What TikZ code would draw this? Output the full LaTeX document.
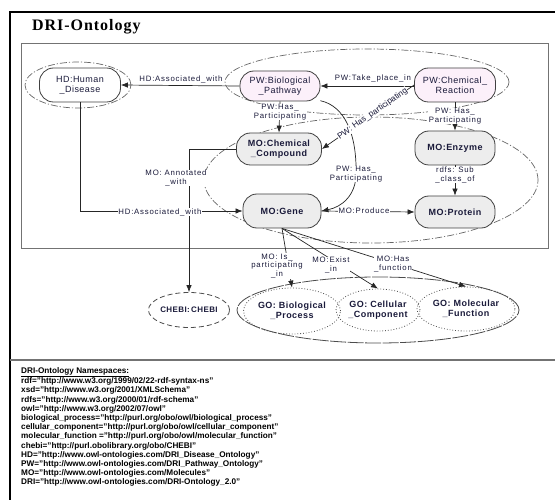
\documentclass[tikz,border=0pt]{standalone}
\usepackage{fontspec}
\setmainfont{Liberation Sans}
\newfontfamily\ndfont[LetterSpace=5]{Liberation Sans}
\newfontfamily\lblfont[LetterSpace=10]{Liberation Sans}
\newfontfamily\ttlfont[LetterSpace=6]{Liberation Serif}
\usetikzlibrary{shapes.geometric,arrows.meta}
\definecolor{ink}{HTML}{1A1A3A}
\definecolor{pwpink}{HTML}{FCF0FA}
\definecolor{mogray}{HTML}{EDEDED}
\tikzset{
  pwbox/.style={draw=black!75, line width=0.8pt, fill=pwpink, rounded corners=14pt,
    minimum height=31pt, align=center, inner sep=1pt, text=ink,
    font=\ndfont\fontsize{9}{10}\selectfont},
  hdbox/.style={pwbox, fill=white},
  mobox/.style={pwbox, fill=mogray, font=\ndfont\bfseries\fontsize{9}{10}\selectfont},
  goell/.style={ellipse, draw=black!70, line width=0.8pt, dotted, align=center,
    inner sep=0pt, text=ink, font=\ndfont\bfseries\fontsize{9}{10}\selectfont},
  chebiell/.style={ellipse, draw=black!70, line width=0.8pt, dash pattern=on 5pt off 3pt,
    align=center, inner sep=0pt, text=ink, font=\ndfont\bfseries\fontsize{8}{9}\selectfont},
  grp/.style={ellipse, draw=black!60, line width=0.7pt,
    dash pattern=on 7pt off 2pt on 1.2pt off 2pt, inner sep=0pt},
  gogrp/.style={ellipse, draw=black!70, line width=0.8pt,
    dash pattern=on 16pt off 1.5pt, inner sep=0pt},
  arr/.style={draw=black!85, line width=0.7pt, -{Latex[length=7pt,width=5.5pt]}},
  lbl/.style={font=\lblfont\fontsize{7.8}{8.6}\selectfont, align=center, inner sep=0.5pt, text=ink},
  lblw/.style={lbl, fill=white},
  slbl/.style={font=\fontsize{8.4}{9}\selectfont, inner sep=0.5pt, text=ink, fill=white},
}
\begin{document}
\begin{tikzpicture}[x=1pt,y=-1pt]
\useasboundingbox (0,0) rectangle (555,500);
% frames
\draw[line width=2pt, black] (10,520) -- (10,12) -- (570,12);
\draw[black!55, line width=1.2pt] (10,360) -- (570,360);
\draw[black!55, line width=0.9pt] (21,43) rectangle (548,248);
\node[anchor=west, font=\ttlfont\bfseries\fontsize{16}{18}\selectfont, inner sep=0pt] (title) at (32,27) {DRI-Ontology};

% group ellipses
\node[grp, minimum width=106pt, minimum height=46pt] (hdgrp) at (78,85) {};
\node[grp, minimum width=284pt, minimum height=66pt] (pwgrp) at (367,82) {};
\node[grp, minimum width=334pt, minimum height=126pt] (mogrp) at (371,180) {};
\node[gogrp, minimum width=282pt, minimum height=66pt] (gogrp) at (378,310) {};

% nodes
\node[hdbox, minimum width=81pt, minimum height=34pt] (hd) at (80,85) {HD:Human\\\_Disease};
\node[pwbox, minimum width=80pt, minimum height=30pt] (pw) at (280,86) {PW:Biological\\\_Pathway};
\node[pwbox, minimum width=81pt, minimum height=34pt] (cr) at (455,85) {PW:Chemical\_\\Reaction};
\node[mobox, minimum width=85pt, minimum height=32pt] (cc) at (279,149) {MO:Chemical\\\_Compound};
\node[mobox, minimum width=80pt, minimum height=34pt] (enz) at (455,148) {MO:Enzyme};
\node[mobox, minimum width=78pt, minimum height=34pt] (gene) at (282,211) {MO:Gene};
\node[mobox, minimum width=80pt, minimum height=32pt] (prot) at (455,212) {MO:Protein};
\node[chebiell, minimum width=80pt, minimum height=35pt] (chebi) at (189,310) {CHEBI:\,CHEBI};
\node[goell, minimum width=97pt, minimum height=46pt] (gobp) at (292,311) {GO: Biological\\\_Process};
\node[goell, minimum width=84pt, minimum height=42pt] (gocc) at (378,310) {GO: Cellular\\\_Component};
\node[goell, minimum width=98pt, minimum height=44pt] (gomf) at (466,309) {GO: Molecular\\\_Function};

% connectors
\draw[arr] (pw.west) -- (hd.east);
\draw[arr] (cr.west |- pw.east) -- (pw.east);
\draw[arr] (cr.west) -- (cc.east);
\draw[arr] (pw.south) -- (cc.north);
\draw[arr] (pw.-20) .. controls (345,106) and (357,135) .. (356,174) .. controls (356,195) and (342,207) .. (gene.east);
\draw[arr] (cr.south) -- (enz.north);
\draw[arr] (enz.south) -- (prot.north);
\draw[arr] (gene.east) -- (prot.west);
\draw[arr] (hd.south) |- (gene.west);
\draw[arr] (cc.west) -| (chebi.north);
\draw[arr] (gene.south) -- (gobp.north);
\draw[arr] (gene.south) -- (gocc.north);
\draw[arr] (gene.south) -- (gomf.north);

% labels
\node[lbl] (l1) at (181,79) {HD:Associated\_with};
\node[lbl] (l2) at (373,78) {PW:Take\_place\_in};
\path (cr.west) -- (cc.east) node[slbl, sloped, pos=0.45] (l3) {PW: Has\_participating};
\node[lblw] (l4) at (280,112) {PW:Has\_\\Participating};
\node[lblw] (l5) at (356,174) {PW: Has\_\\Participating};
\node[lblw] (l6) at (455,116) {PW: Has\_\\Participating};
\node[lblw] (l7) at (455,175) {rdfs: Sub\\\_class\_of};
\node[lblw] (l8) at (364,211) {MO:Produce};
\node[lblw] (l9) at (160,212) {HD:Associated\_with};
\node[lblw] (l10) at (176,178) {MO: Annotated\\\_with};
\node[lblw] (l11) at (277,266) {MO: Is\_\\participating\\\_in};
\node[lblw] (l12) at (331,265) {MO:Exist\\\_in};
\node[lblw] (l13) at (393,264) {MO:Has\\\_function};

% namespaces
\node[anchor=north west, align=left, inner sep=0pt, text=black,
  font=\bfseries\fontsize{8.2}{9.17}\selectfont] (ns) at (21,367) {%
\underline{DRI-Ontology Namespaces:}\\
rdf="http://www.w3.org/1999/02/22-rdf-syntax-ns"\\
xsd="http://www.w3.org/2001/XMLSchema"\\
rdfs="http://www.w3.org/2000/01/rdf-schema"\\
owl="http://www.w3.org/2002/07/owl"\\
biological\_process="http://purl.org/obo/owl/biological\_process"\\
cellular\_component="http://purl.org/obo/owl/cellular\_component"\\
molecular\_function ="http://purl.org/obo/owl/molecular\_function"\\
chebi="http://purl.obolibrary.org/obo/CHEBI"\\
HD="http://www.owl-ontologies.com/DRI\_Disease\_Ontology"\\
PW="http://www.owl-ontologies.com/DRI\_Pathway\_Ontology"\\
MO="http://www.owl-ontologies.com/Molecules"\\
DRI="http://www.owl-ontologies.com/DRI-Ontology\_2.0"};
\end{tikzpicture}
\end{document}
